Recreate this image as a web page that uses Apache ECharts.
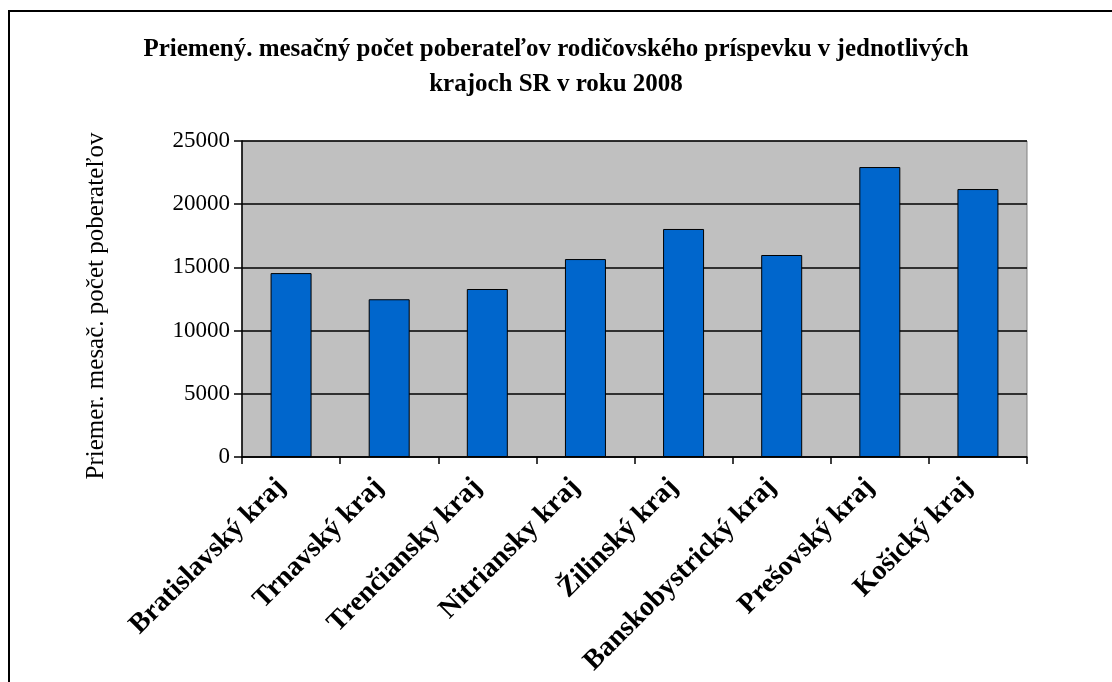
<!DOCTYPE html>
<html>
<head>
<meta charset="utf-8">
<script src="https://cdn.jsdelivr.net/npm/echarts@6/dist/echarts.min.js"></script>
<style>html,body{margin:0;padding:0;background:#fff}#c{width:1112px;height:682px}</style>
</head>
<body>
<div id="c"></div>
<script>
var categories = ['Bratislavský kraj','Trnavský kraj','Trenčiansky kraj','Nitriansky kraj','Žilinský kraj','Banskobystrický kraj','Prešovský kraj','Košický kraj'];
var values = [14550, 12480, 13290, 15660, 18040, 15980, 22940, 21200];
var yTicks = [0, 5000, 10000, 15000, 20000, 25000];
var titleText = 'Priemený. mesačný počet poberateľov rodičovského príspevku v jednotlivých\nkrajoch SR v roku 2008';
var yName = 'Priemer. mesač. počet poberateľov';

var font = '"Liberation Serif", "Times New Roman", serif';
var chart = echarts.init(document.getElementById('c'));
chart.setOption({
  animation: false,
  backgroundColor: '#fff',
  title: {
    text: titleText,
    left: 'center',
    top: 27,
    textStyle: {fontFamily: font, fontWeight: 'bold', fontSize: 25, color: '#000', lineHeight: 35}
  },
  graphic: [
    {type: 'line', shape: {x1: 9, y1: 11, x2: 9, y2: 700}, style: {stroke: '#000', lineWidth: 2}},
    {type: 'line', shape: {x1: 8, y1: 11, x2: 1120, y2: 11}, style: {stroke: '#000', lineWidth: 2}}
  ],
  grid: {left: 242, right: 85, top: 141, bottom: 225, show: true, backgroundColor: '#C0C0C0', borderColor: '#808080', borderWidth: 1},
  xAxis: {
    type: 'category',
    data: categories,
    axisLine: {lineStyle: {color: '#000', width: 1.5}},
    axisTick: {show: true, length: 7, lineStyle: {color: '#000', width: 1.5}},
    axisLabel: {rotate: 45, margin: 16, padding: [0, 14, 0, 0], color: '#000', fontFamily: font, fontWeight: 'bold', fontSize: 28, interval: 0}
  },
  yAxis: {
    type: 'value',
    min: 0, max: 25000, interval: 5000,
    name: yName,
    nameLocation: 'middle',
    nameGap: 133,
    nameTextStyle: {fontFamily: font, fontSize: 25, color: '#000', padding: [0, 14, 0, 0]},
    axisLine: {show: true, lineStyle: {color: '#000', width: 1.5}},
    axisTick: {show: true, length: 8, lineStyle: {color: '#000', width: 1.5}},
    axisLabel: {margin: 12, color: '#000', fontFamily: font, fontSize: 23,
      customValues: yTicks, formatter: function (v) { return String(v); }},
    splitLine: {show: true, lineStyle: {color: '#000', width: 1.5}}
  },
  series: [{
    type: 'bar',
    data: values,
    barWidth: 41,
    itemStyle: {color: '#0066CC', borderColor: '#000', borderWidth: 1}
  }]
});
</script>
</body>
</html>
